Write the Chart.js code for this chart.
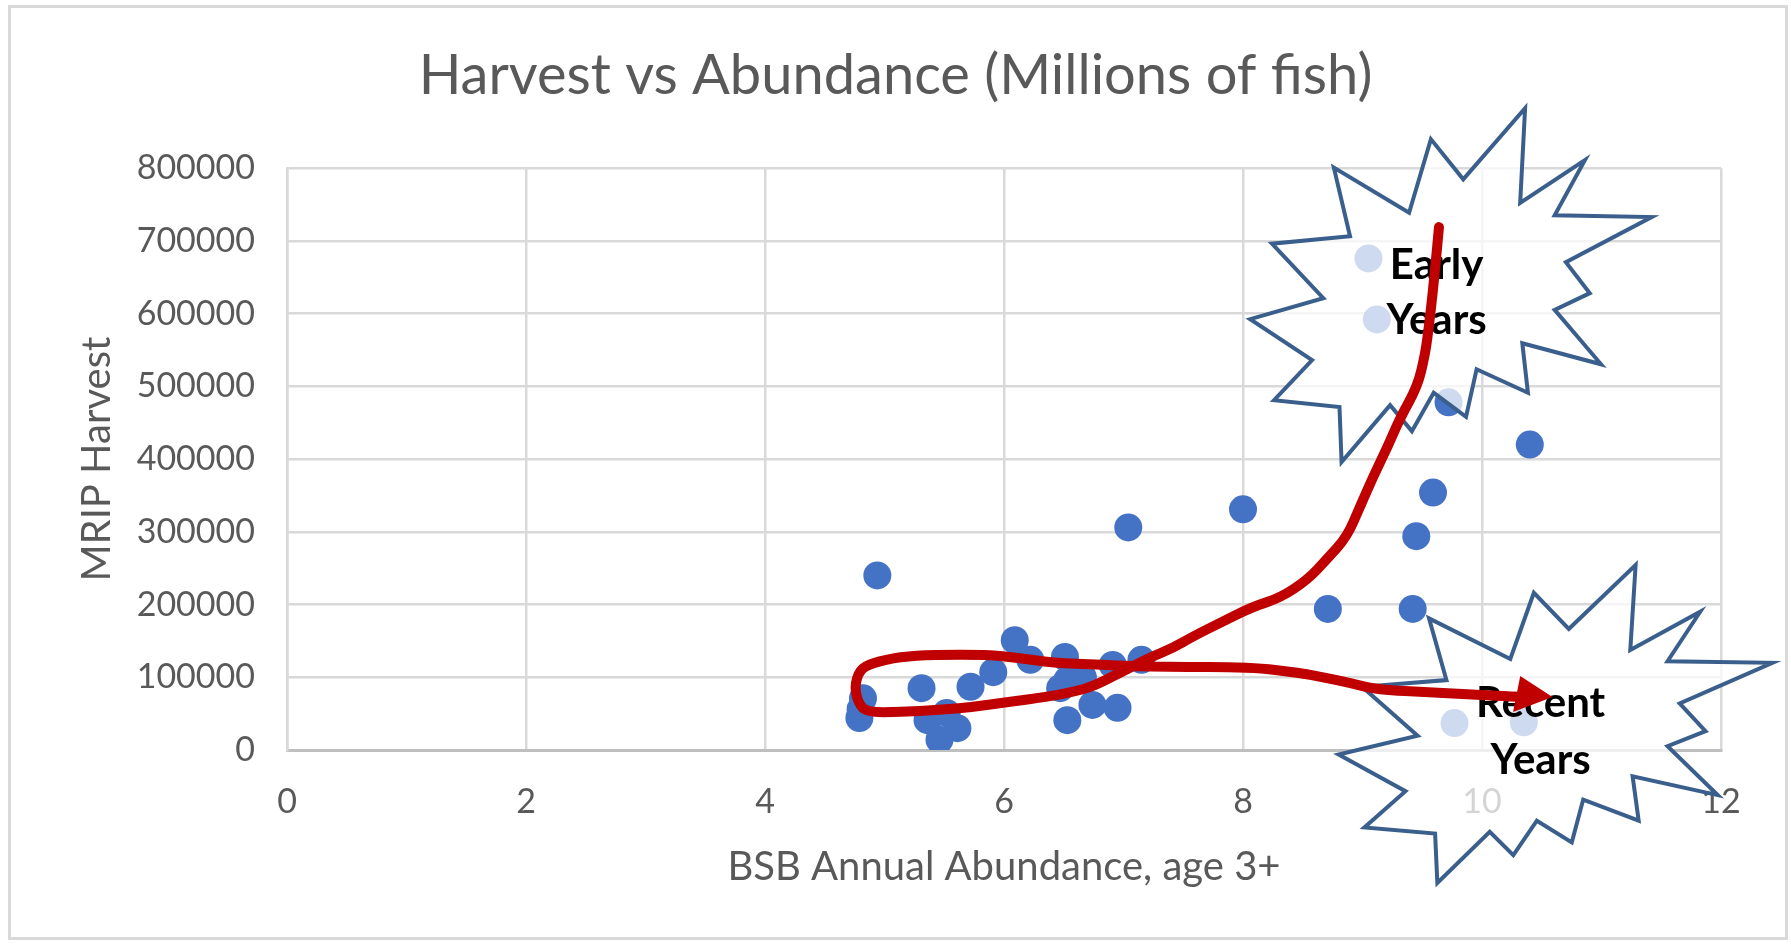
<!DOCTYPE html>
<html>
<head>
<meta charset="utf-8">
<title>Harvest vs Abundance</title>
<script src="https://cdn.jsdelivr.net/npm/chart.js@4.4.1/dist/chart.umd.min.js"></script>
<style>
  html, body { margin: 0; padding: 0; background: #fff; }
</style>
</head>
<body>
<canvas id="grafico-harvest" width="1791" height="945"></canvas>
<script>
// Values
const abundance = [4.79, 4.80, 4.82, 4.94, 5.31, 5.36, 5.52, 5.61, 5.46, 5.72, 5.91, 6.09,
  6.22, 6.51, 6.53, 6.47, 6.66, 6.53, 6.74, 6.95, 6.91, 7.15, 7.04, 8.00, 8.71, 9.42,
  9.45, 9.59, 9.72, 10.40, 9.05, 9.12, 9.77, 10.35];
const harvest = [44000, 56000, 71000, 240000, 85000, 41000, 51000, 30000, 14000, 87000, 107000, 151000,
  124000, 128000, 96000, 85000, 100000, 41000, 62000, 58000, 117000, 124000, 306000, 331000, 194000, 194000,
  294000, 354000, 478000, 420000, 676000, 592000, 37000, 38000];

const xTicks = [0, 2, 4, 6, 8, 10, 12];
const yTicks = [0, 100000, 200000, 300000, 400000, 500000, 600000, 700000, 800000];

// hand-drawn red arrow (data units)
const arrowX = [9.64, 9.60, 9.55, 9.52, 9.46, 9.31, 9.21, 9.09, 8.98, 8.87, 8.70, 8.54, 8.31, 8.08,
  7.81, 7.58, 7.41, 7.22, 6.97, 6.74, 6.58, 6.36, 6.03, 5.74, 5.46, 5.13, 4.85, 4.78, 4.75, 4.79,
  4.90, 5.13, 5.41, 5.86, 6.11, 6.41, 6.80, 7.36, 8.06, 8.48, 8.67, 8.90, 9.12, 9.59, 10.32, 10.42];
const arrowY = [719000, 647000, 574000, 541000, 500000, 455000, 417000, 376000, 335000, 293000, 262000,
  234000, 209000, 197000, 175000, 156000, 140000, 127000, 106000, 87000, 80000, 73000, 66000, 59000,
  55000, 52000, 52000, 65000, 87000, 110000, 120000, 128000, 131000, 131000, 127000, 120000, 117000,
  114000, 114000, 106000, 100000, 92000, 83000, 79000, 73000, 73000];
const arrowHeadX = [10.59, 10.32, 10.26];
const arrowHeadY = [72900, 101700, 52200];

// callouts: box [x0, x1, yTop, yBottom] and text lines
const starBoxes = [[8.06, 11.42, 882500, 395900], [8.80, 12.43, 254300, -182800]];
const starLabels = [['Early', 'Years'], ['Recent', 'Years']];
const starLabelX = [9.62, 10.49];
const starLabelY = [[666700, 591000], [64600, -13700]];

// irregularSeal2 outline (21600 units)
const SEAL = [[11462, 4342], [14790, 0], [14525, 5777], [18007, 3172], [16380, 6532], [21600, 6645],
  [16985, 9402], [18270, 11290], [16380, 12310], [18877, 15632], [14640, 14350], [14942, 17370],
  [12180, 15935], [11612, 18842], [9872, 17370], [8700, 19712], [7527, 18125], [4917, 21600],
  [4805, 18240], [1285, 17825], [3330, 15370], [0, 12877], [3935, 11592], [1172, 8270],
  [5372, 7817], [4502, 3625], [8550, 6382], [9722, 1887]];

const FONT = 'Lato';
const GREY = '#595959';

const frame = {
  id: 'frame',
  afterDraw(chart) {
    const ctx = chart.ctx;
    ctx.save();
    ctx.strokeStyle = '#D9D9D9';
    ctx.lineWidth = 3;
    ctx.strokeRect(9.5, 6.5, 1777, 932);
    ctx.restore();
  }
};

const callouts = {
  id: 'callouts',
  afterDatasetsDraw(chart) {
    const ctx = chart.ctx;
    const xs = chart.scales.x, ys = chart.scales.y;
    ctx.save();

    starBoxes.forEach((b, i) => {
      const x0 = xs.getPixelForValue(b[0]), x1 = xs.getPixelForValue(b[1]);
      const y0 = ys.getPixelForValue(b[2]), y1 = ys.getPixelForValue(b[3]);
      ctx.beginPath();
      SEAL.forEach((p, k) => {
        const px = x0 + (x1 - x0) * p[0] / 21600;
        const py = y0 + (y1 - y0) * p[1] / 21600;
        if (k === 0) ctx.moveTo(px, py); else ctx.lineTo(px, py);
      });
      ctx.closePath();
      ctx.fillStyle = 'rgba(255,255,255,0.74)';
      ctx.fill();
      ctx.strokeStyle = '#3B5F8C';
      ctx.lineWidth = 4;
      ctx.lineJoin = 'miter';
      ctx.stroke();

      ctx.fillStyle = '#000';
      ctx.font = `bold 42px ${FONT}`;
      ctx.textAlign = 'center';
      ctx.textBaseline = 'middle';
      starLabels[i].forEach((t, k) => {
        ctx.fillText(t, xs.getPixelForValue(starLabelX[i]), ys.getPixelForValue(starLabelY[i][k]));
      });
    });

    // red line
    const pts = arrowX.map((x, i) => [xs.getPixelForValue(x), ys.getPixelForValue(arrowY[i])]);
    ctx.beginPath();
    ctx.moveTo(pts[0][0], pts[0][1]);
    for (let i = 1; i < pts.length - 1; i++) {
      const mx = (pts[i][0] + pts[i + 1][0]) / 2;
      const my = (pts[i][1] + pts[i + 1][1]) / 2;
      ctx.quadraticCurveTo(pts[i][0], pts[i][1], mx, my);
    }
    ctx.lineTo(pts[pts.length - 1][0], pts[pts.length - 1][1]);
    ctx.strokeStyle = '#C00000';
    ctx.lineWidth = 10;
    ctx.lineCap = 'round';
    ctx.lineJoin = 'round';
    ctx.stroke();

    ctx.beginPath();
    arrowHeadX.forEach((x, i) => {
      const px = xs.getPixelForValue(x), py = ys.getPixelForValue(arrowHeadY[i]);
      if (i === 0) ctx.moveTo(px, py); else ctx.lineTo(px, py);
    });
    ctx.closePath();
    ctx.fillStyle = '#C00000';
    ctx.fill();

    ctx.restore();
  }
};

const ctx = document.getElementById('grafico-harvest').getContext('2d');
new Chart(ctx, {
  type: 'scatter',
  data: {
    datasets: [{
      label: 'MRIP Harvest',
      data: abundance.map((x, i) => ({ x, y: harvest[i] })),
      backgroundColor: '#4472C4',
      borderWidth: 0,
      pointRadius: 14,
      pointHoverRadius: 14
    }]
  },
  options: {
    responsive: false,
    animation: false,
    devicePixelRatio: 1,
    layout: { padding: 0 },
    plugins: {
      legend: { display: false },
      tooltip: { enabled: false },
      title: {
        display: true,
        text: 'Harvest vs Abundance (Millions of fish)',
        color: GREY,
        font: { family: FONT, size: 56, weight: 'normal' },
        padding: { top: 42, bottom: 59 }
      }
    },
    scales: {
      x: {
        type: 'linear',
        min: xTicks[0],
        max: xTicks[xTicks.length - 1],
        afterBuildTicks: s => { s.ticks = xTicks.map(v => ({ value: v })); },
        afterFit: s => { s.height = 195; },
        grid: { color: '#D9D9D9', lineWidth: 2.5, drawTicks: false },
        border: { color: '#BFBFBF', width: 3 },
        ticks: {
          color: GREY,
          font: { family: FONT, size: 34 },
          padding: 32,
          callback: v => String(v)
        },
        title: {
          display: true,
          text: 'BSB Annual Abundance, age 3+',
          color: GREY,
          font: { family: FONT, size: 40 },
          padding: { bottom: 54 }
        }
      },
      y: {
        type: 'linear',
        min: yTicks[0],
        max: yTicks[yTicks.length - 1],
        afterBuildTicks: s => { s.ticks = yTicks.map(v => ({ value: v })); },
        afterFit: s => { s.width = 287; },
        grid: { color: '#D9D9D9', lineWidth: 2.5, drawTicks: false },
        border: { color: '#D9D9D9', width: 2.5 },
        ticks: {
          color: GREY,
          font: { family: FONT, size: 34 },
          padding: 32,
          callback: v => String(v)
        },
        title: {
          display: true,
          text: 'MRIP Harvest',
          color: GREY,
          font: { family: FONT, size: 40 },
          padding: { top: 73 }
        }
      },
      yPad: {
        type: 'linear',
        position: 'right',
        grid: { display: false },
        border: { display: false },
        ticks: { display: false },
        afterFit: s => { s.width = 70; }
      }
    }
  },
  plugins: [callouts, frame]
});
</script>
</body>
</html>
